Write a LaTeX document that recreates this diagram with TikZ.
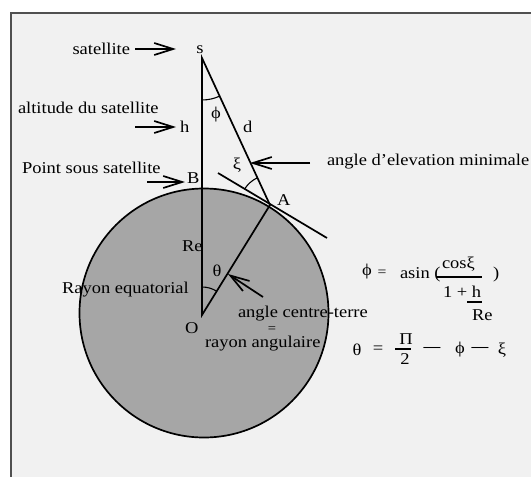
\documentclass[tikz,border=0pt]{standalone}
\usepackage{fontspec}
\setmainfont{Liberation Serif}[FakeStretch=1.12]
\usetikzlibrary{arrows.meta}
\definecolor{paper}{RGB}{241,241,241}
\definecolor{earthgray}{RGB}{166,166,166}
\definecolor{framegray}{RGB}{80,80,80}

\begin{document}
\begin{tikzpicture}[x=1pt,y=-1pt,font=\fontsize{16.5}{19}\selectfont,
 lbl/.style={inner sep=0pt,outer sep=0pt},
 geo/.style={line width=1.7pt},
 angarc/.style={line width=1.1pt},
 bar/.style={line width=1.3pt},
 ptr/.style={-{Straight Barb[length=19pt,width=12pt]},line width=1.7pt}]
\useasboundingbox (0,0) rectangle (531,477);
\path[fill=paper,draw=framegray,line width=2pt] (10.5,12.5) rectangle (560,500);
% earth and geometry
\node[circle,draw,line width=1.7pt,fill=earthgray,minimum size=249pt,inner sep=0pt] (earth) at (204,313) {};
\coordinate (s) at (202,58);
\coordinate (O) at (202,315);
\coordinate (A) at (270,205);
\coordinate (tanA) at (218,173);
\coordinate (tanB) at (327,238);
\draw[geo] (s) -- (O) -- (A) -- cycle;
\draw[geo] (tanA) -- (tanB);
\draw[angarc] (s) ++(90:42) arc[start angle=90,end angle=65.2,radius=42];
\draw[angarc] (O) ++(-90:28) arc[start angle=-90,end angle=-58.3,radius=28];
\draw[angarc] (A) ++(211.6:30) arc[start angle=211.6,end angle=245.2,radius=30];
% labels
\node[lbl,anchor=base east] (satlbl) at (130,54) {satellite};
\node[lbl,anchor=base] (slbl) at (200,53) {s};
\node[lbl,anchor=base west] (altlbl) at (18,113) {altitude du satellite};
\node[lbl,anchor=base west] (hlbl) at (180,132) {h};
\node[lbl] (philbl) at (216,115) {ϕ};
\node[lbl,anchor=base west] (dlbl) at (243,132) {d};
\node[lbl,anchor=base west] (pslbl) at (22,173) {Point sous satellite};
\node[lbl,anchor=base west] (blbl) at (187,183) {B};
\node[lbl] (xilbl) at (237,165) {ξ};
\node[lbl,anchor=base west] (elevlbl) at (327,165) {angle d’elevation minimale};
\node[lbl,anchor=base west] (albl) at (277,205) {A};
\node[lbl,anchor=base west] (relbl) at (182,251) {Re};
\node[lbl] (thlbl) at (217,271) {θ};
\node[lbl,anchor=base west] (rayeq) at (62,293) {Rayon equatorial};
\node[lbl,anchor=base west] (olbl) at (185,333) {O};
\node[lbl,anchor=base west] (cterre) at (238,317) {angle centre-terre};
\node[lbl,font=\fontsize{13}{15}\selectfont] (eqlbl) at (272,329.5) {=};
\node[lbl,anchor=base west] (rayang) at (205,347) {rayon angulaire};
% pointers
\coordinate (satT) at (135,49);   \coordinate (satH) at (176,49);
\coordinate (altT) at (135,127);  \coordinate (altH) at (176,127);
\coordinate (subT) at (147,182);  \coordinate (subH) at (185,182);
\coordinate (elvT) at (310,163);  \coordinate (elvH) at (250,163);
\coordinate (cenT) at (263,297);  \coordinate (cenH) at (228,274);
\foreach \a/\b in {satT/satH,altT/altH,subT/subH,elvT/elvH,cenT/cenH} \draw[ptr] (\a)--(\b);
% formulas
\node[lbl] (phieq) at (367,272) {ϕ};
\node[lbl,font=\fontsize{14}{16}\selectfont] (eqa) at (382,273) {=};
\node[lbl,anchor=base west] (asin) at (400,278) {asin (};
\node[lbl,anchor=base west] (cosxi) at (442,268) {cosξ};
\draw[bar] (437,277) -- (482,277);
\node[lbl,anchor=base west] (rpar) at (493,278) {)};
\node[lbl,anchor=base west] (onep) at (443,297) {1 + h};
\draw[bar] (467,302) -- (482,302);
\node[lbl,anchor=base west] (reden) at (472,320) {Re};
\node[lbl] (theq) at (357,350) {θ};
\node[lbl] (eqb) at (378,350) {=};
\node[lbl] (pinum) at (406,339) {Π};
\draw[bar] (395,349) -- (411,349);
\node[lbl] (twoden) at (405,359) {2};
\node[lbl,font=\fontsize{15}{17}\selectfont\bfseries] (minA) at (432,349) {—};
\node[lbl] (pheq) at (460,350) {ϕ};
\node[lbl,font=\fontsize{15}{17}\selectfont\bfseries] (minB) at (480,349) {—};
\node[lbl] (xieq) at (502,350) {ξ};
\end{tikzpicture}
\end{document}
